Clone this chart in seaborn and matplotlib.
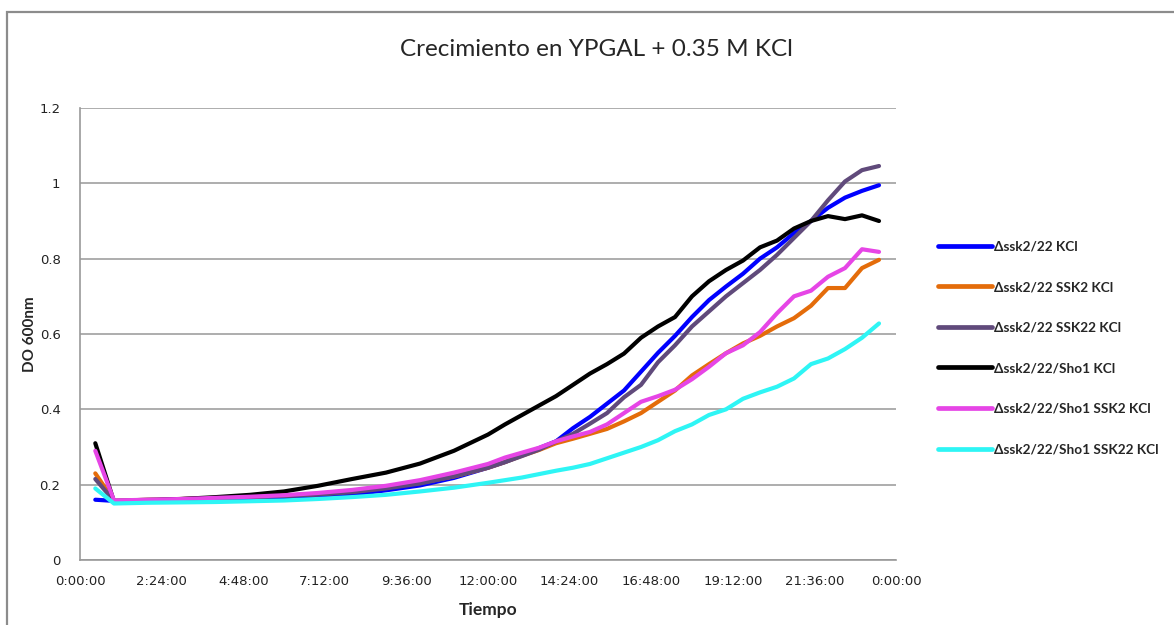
import matplotlib
matplotlib.use("Agg")
import matplotlib.pyplot as plt
from matplotlib.patches import Rectangle
import seaborn as sns
import pandas as pd

# Sampling times (hours after inoculation)
hours = [0.45, 1.0, 2, 3, 4, 5, 6, 7, 8, 9, 10, 11, 12, 12.5, 13, 13.5, 14, 14.5,
         15, 15.5, 16, 16.5, 17, 17.5, 18, 18.5, 19, 19.5, 20, 20.5, 21, 21.5,
         22, 22.5, 23, 23.5]

# OD600 readings per strain
ssk2_22 = [0.16, 0.157, 0.158, 0.16, 0.161, 0.162, 0.164, 0.167, 0.174, 0.185,
           0.198, 0.218, 0.245, 0.26, 0.278, 0.297, 0.315, 0.35, 0.38, 0.415,
           0.45, 0.50, 0.55, 0.595, 0.645, 0.69, 0.726, 0.76, 0.80, 0.83, 0.868,
           0.90, 0.935, 0.962, 0.98, 0.995]
ssk2_22_SSK2 = [0.23, 0.157, 0.16, 0.162, 0.165, 0.168, 0.171, 0.175, 0.182,
                0.192, 0.205, 0.222, 0.245, 0.26, 0.277, 0.292, 0.31, 0.322,
                0.335, 0.348, 0.368, 0.39, 0.42, 0.45, 0.49, 0.52, 0.549, 0.575,
                0.595, 0.62, 0.642, 0.675, 0.722, 0.722, 0.775, 0.797]
ssk2_22_SSK22 = [0.215, 0.157, 0.16, 0.162, 0.165, 0.167, 0.17, 0.174, 0.18,
                 0.19, 0.203, 0.222, 0.245, 0.26, 0.276, 0.293, 0.315, 0.335,
                 0.362, 0.39, 0.432, 0.465, 0.525, 0.57, 0.62, 0.66, 0.70, 0.735,
                 0.77, 0.81, 0.855, 0.90, 0.955, 1.005, 1.035, 1.046]
sho1 = [0.31, 0.155, 0.158, 0.162, 0.167, 0.173, 0.182, 0.197, 0.215, 0.232,
        0.256, 0.29, 0.333, 0.36, 0.385, 0.41, 0.435, 0.465, 0.495, 0.52, 0.548,
        0.59, 0.62, 0.645, 0.70, 0.74, 0.77, 0.795, 0.83, 0.848, 0.88, 0.90,
        0.913, 0.905, 0.915, 0.90]
sho1_SSK2 = [0.29, 0.158, 0.16, 0.162, 0.165, 0.168, 0.172, 0.178, 0.186, 0.197,
             0.212, 0.232, 0.255, 0.272, 0.285, 0.298, 0.315, 0.328, 0.34, 0.36,
             0.39, 0.42, 0.435, 0.452, 0.48, 0.513, 0.549, 0.57, 0.605, 0.655,
             0.70, 0.715, 0.752, 0.775, 0.825, 0.818]
sho1_SSK22 = [0.19, 0.15, 0.152, 0.153, 0.154, 0.156, 0.158, 0.162, 0.167, 0.173,
              0.182, 0.192, 0.205, 0.212, 0.219, 0.228, 0.237, 0.245, 0.255, 0.27,
              0.285, 0.30, 0.318, 0.342, 0.36, 0.385, 0.40, 0.428, 0.445, 0.46,
              0.482, 0.52, 0.535, 0.56, 0.59, 0.628]

labels = ["Δssk2/22 KCl", "Δssk2/22 SSK2 KCl", "Δssk2/22 SSK22 KCl",
          "Δssk2/22/Sho1 KCl", "Δssk2/22/Sho1 SSK2 KCl", "Δssk2/22/Sho1 SSK22 KCl"]
colors = ["#0000FF", "#E46C0A", "#604A7B", "#000000", "#E645E6", "#2EF5F5"]
series = [ssk2_22, ssk2_22_SSK2, ssk2_22_SSK22, sho1, sho1_SSK2, sho1_SSK22]

x_ticks_h = [0, 2.4, 4.8, 7.2, 9.6, 12.0, 14.4, 16.8, 19.2, 21.6, 24.0]
y_ticks = [0, 0.2, 0.4, 0.6, 0.8, 1.0, 1.2]
y_tick_labels = ["0", "0.2", "0.4", "0.6", "0.8", "1", "1.2"]

df = pd.DataFrame({
    "hours": hours * len(series),
    "od": [v for s in series for v in s],
    "strain": [lab for lab, s in zip(labels, series) for _ in s],
})

sns.set_style("white")
plt.rcParams["font.family"] = ["Lato", "DejaVu Sans"]

fig = plt.figure(figsize=(11.74, 6.25), dpi=100)
ax = fig.add_axes([80 / 1174, 65 / 625, 816 / 1174, 452 / 625])

sns.lineplot(data=df, x="hours", y="od", hue="strain", hue_order=labels,
             palette=colors, linewidth=3.0, ax=ax, sort=False,
             solid_capstyle="round")

ax.set_xlim(0, 24)
ax.set_ylim(0, 1.2)


def fmt_time(h):
    total = int(round(h * 60)) % (24 * 60)
    return f"{total // 60}:{total % 60:02d}:00"


ax.set_xticks(x_ticks_h)
ax.set_xticklabels([fmt_time(h) for h in x_ticks_h], family="DejaVu Sans",
                   fontsize=9.5, color="#222222")
ax.set_yticks(y_ticks)
ax.set_yticklabels(y_tick_labels, family="DejaVu Sans", fontsize=9.5,
                   color="#222222")
ax.tick_params(axis="x", length=0, pad=11)
ax.tick_params(axis="y", length=0, pad=14)

ax.grid(axis="y", color="#a0a0a0", linewidth=1.2)
ax.set_axisbelow(True)
for side in ["top", "right"]:
    ax.spines[side].set_visible(False)
for side in ["left", "bottom"]:
    ax.spines[side].set_color("#999999")
    ax.spines[side].set_linewidth(1.2)

ax.set_xlabel("Tiempo", fontsize=12.5, fontweight="bold", labelpad=10)
ax.set_ylabel("DO 600nm", fontsize=11, fontweight="bold", labelpad=2)

fig.text(596 / 1174, 1 - 50 / 625, "Crecimiento en YPGAL + 0.35 M KCl",
         ha="center", va="center", fontsize=17.5)

leg = ax.legend(loc="upper left", bbox_to_anchor=(933 / 1174, 1 - 235 / 625),
                bbox_transform=fig.transFigure, frameon=False,
                prop={"family": ["Lato", "DejaVu Sans"], "weight": "bold", "size": 9.8},
                handlelength=3.9, handletextpad=0.2, labelspacing=2.1,
                borderaxespad=0)
for line in leg.get_lines():
    line.set_linewidth(3.4)
    line.set_solid_capstyle("round")

fig.patches.append(Rectangle((7 / 1174, -0.1), 1.2, 0.1 + 1 - 12 / 625,
                             transform=fig.transFigure, fill=False,
                             edgecolor="#8c8c8c", linewidth=1.6))

fig.savefig("out.png", dpi=100, facecolor="white")
